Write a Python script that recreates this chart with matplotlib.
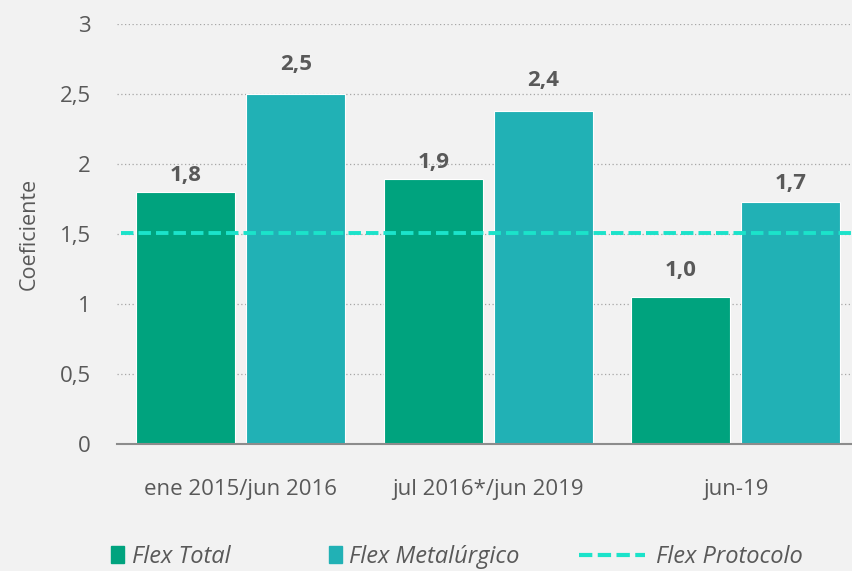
import numpy as np
import matplotlib.pyplot as plt
from matplotlib.patches import Patch
from matplotlib.lines import Line2D

categories = ["ene 2015/jun 2016", "jul 2016*/jun 2019", "jun-19"]
flex_total = [1.8, 1.89, 1.05]
flex_metal = [2.5, 2.38, 1.73]
total_labels = ["1,8", "1,9", "1,0"]
metal_labels = ["2,5", "2,4", "1,7"]
flex_protocolo = 1.51
yticks = [0, 0.5, 1, 1.5, 2, 2.5, 3]
ytick_labels = ["0", "0,5", "1", "1,5", "2", "2,5", "3"]

# label gap above bar tops, in points (Excel placed them unevenly)
total_gap = [12, 12, 19]
metal_gap = [21, 22, 13]

BG = "#F2F2F2"
GREEN = "#00A37E"
TEAL = "#21B1B5"
CYAN = "#1BE3CA"
TXT = "#595959"

plt.rcParams['font.family'] = ['Open Sans', 'DejaVu Sans']

fig = plt.figure(figsize=(8.52, 5.71), dpi=100, facecolor=BG)
W, H = 852, 571
ax = fig.add_axes([117 / W, (H - 444) / H, 742.5 / W, 420 / H])
ax.set_facecolor(BG)

x = np.arange(len(categories))
bw = 0.4
off = 0.222
b1 = ax.bar(x - off, flex_total, bw, color=GREEN, edgecolor="white", linewidth=0.8, zorder=3)
b2 = ax.bar(x + off, flex_metal, bw, color=TEAL, edgecolor="white", linewidth=0.8, zorder=3)
ax.axhline(flex_protocolo, xmin=0.005, color=CYAN, lw=2.8, ls=(0, (3.2, 1.3)), zorder=4)

for bars, labs, gaps in ((b1, total_labels, total_gap), (b2, metal_labels, metal_gap)):
    for r, lab, g in zip(bars, labs, gaps):
        ax.annotate(lab, (r.get_x() + r.get_width() / 2, r.get_height()),
                    xytext=(0, g), textcoords="offset points",
                    ha="center", va="center", fontsize=16, fontweight="bold", color=TXT)

ax.set_xlim(-0.5, 2.5)
ax.set_ylim(0, 3)
ax.set_yticks(yticks)
ax.set_yticklabels(ytick_labels)
ax.set_xticks(x)
ax.set_xticklabels(categories)
ax.tick_params(axis="both", length=0, labelsize=16, labelcolor=TXT)
ax.tick_params(axis="y", pad=19)
ax.tick_params(axis="x", pad=25)
ax.yaxis.grid(True, ls=(0, (1, 2)), color="#A6A6A6", lw=0.9, zorder=0)
for s in ["top", "right", "left"]:
    ax.spines[s].set_visible(False)
ax.spines["bottom"].set_color("#8C8C8C")
ax.spines["bottom"].set_linewidth(1.5)
ax.spines["bottom"].set_zorder(5)
ax.set_ylabel("Coeficiente", fontsize=15.5, color=TXT, labelpad=14)

# legend: one entry each so the dashed handle can be longer
entries = [(Patch(color=GREEN, label="Flex Total"), 111, 0.55, 0.35),
           (Patch(color=TEAL, label="Flex Metalúrgico"), 329, 0.55, 0.3),
           (Line2D([0], [0], color=CYAN, lw=3.0, ls=(0, (3.2, 1.3)), label="Flex Protocolo"), 579, 2.8, 0.45)]
for handle, xpos, hl, tp in entries:
    leg = fig.legend(handles=[handle], loc="center left", bbox_to_anchor=(xpos / W, 1 - 557 / H),
                     frameon=False, borderpad=0, borderaxespad=0, handlelength=hl,
                     handletextpad=tp, prop={"style": "italic", "size": 17})
    leg.get_texts()[0].set_color(TXT)

fig.savefig("out.png", dpi=100, facecolor=BG)
